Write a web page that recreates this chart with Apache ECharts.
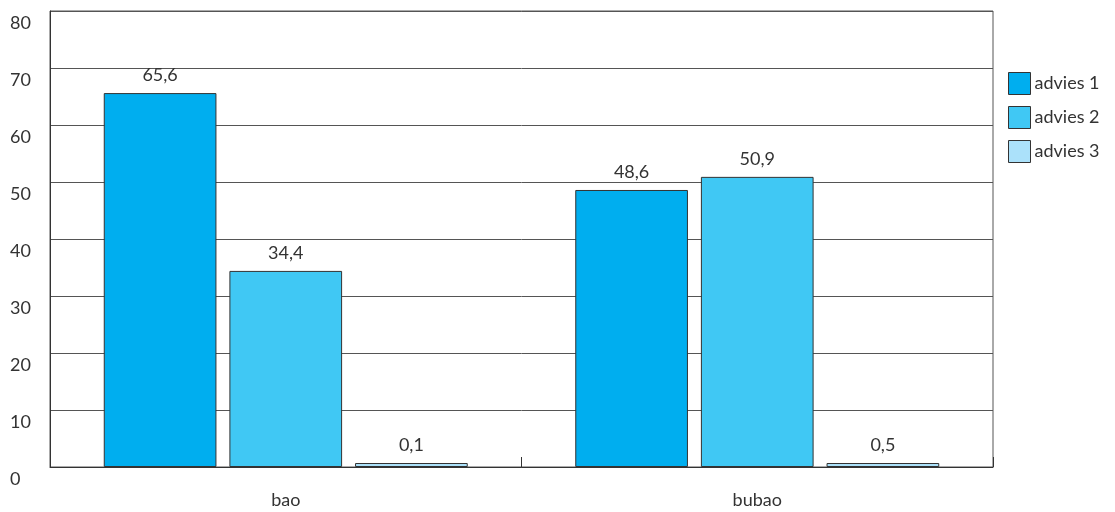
<!DOCTYPE html>
<html>
<head>
<meta charset="utf-8">
<script src="https://cdn.jsdelivr.net/npm/echarts@6/dist/echarts.min.js"></script>
<style>
html, body { margin: 0; padding: 0; background: #fff; }
#chart { width: 1115px; height: 512px; }
</style>
</head>
<body>
<div id="chart"></div>
<script>
// data
var categories = ['bao', 'bubao'];
var seriesNames = ['advies 1', 'advies 2', 'advies 3'];
var advies1 = [65.6, 48.6];
var advies2 = [34.4, 50.9];
var advies3 = [0.1, 0.5];
var colors = ['#00aeef', '#40c8f4', '#abe1fa'];

var myChart = echarts.init(document.getElementById('chart'));

function fmt(p) {
    return String(p.value).replace('.', ',');
}

function makeSeries(name, data, i) {
    return {
        name: name,
        type: 'bar',
        data: data,
        barGap: '11.5%',
        barCategoryGap: '22.8%',
        barMinHeight: 4,
        itemStyle: {
            color: colors[i],
            borderColor: '#333',
            borderWidth: 1
        },
        label: {
            show: true,
            position: 'top',
            distance: 9,
            formatter: fmt,
            color: '#333',
            fontSize: 18,
            fontFamily: 'Lato'
        }
    };
}

var option = {
    animation: false,
    textStyle: { fontFamily: 'Lato' },
    color: colors,
    grid: {
        left: 50, right: 122, top: 11, bottom: 45,
        show: true,
        borderColor: '#555',
        borderWidth: 1
    },
    legend: {
        orient: 'vertical',
        left: 1003,
        top: 67,
        icon: 'rect',
        itemWidth: 22,
        itemHeight: 22,
        itemGap: 11,
        data: seriesNames,
        itemStyle: { borderColor: '#333', borderWidth: 1 },
        textStyle: { fontSize: 18, color: '#333', padding: [0, 0, 0, -1] }
    },
    xAxis: {
        type: 'category',
        data: categories,
        axisLine: { lineStyle: { color: '#333' } },
        axisTick: { show: true, inside: true, length: 10, lineStyle: { color: '#333' } },
        axisLabel: { fontSize: 18, color: '#333', margin: 24 }
    },
    yAxis: {
        type: 'value',
        min: 0,
        max: 80,
        interval: 10,
        axisLine: { show: true, lineStyle: { color: '#333' } },
        axisTick: { show: false },
        splitLine: { lineStyle: { color: '#555', width: 1 } },
        axisLabel: {
            fontSize: 18,
            color: '#333',
            align: 'left',
            verticalAlign: 'top',
            margin: 40,
            padding: [3, 0, 0, 0]
        }
    },
    series: [
        makeSeries(seriesNames[0], advies1, 0),
        makeSeries(seriesNames[1], advies2, 1),
        makeSeries(seriesNames[2], advies3, 2)
    ]
};

myChart.setOption(option);
</script>
</body>
</html>
